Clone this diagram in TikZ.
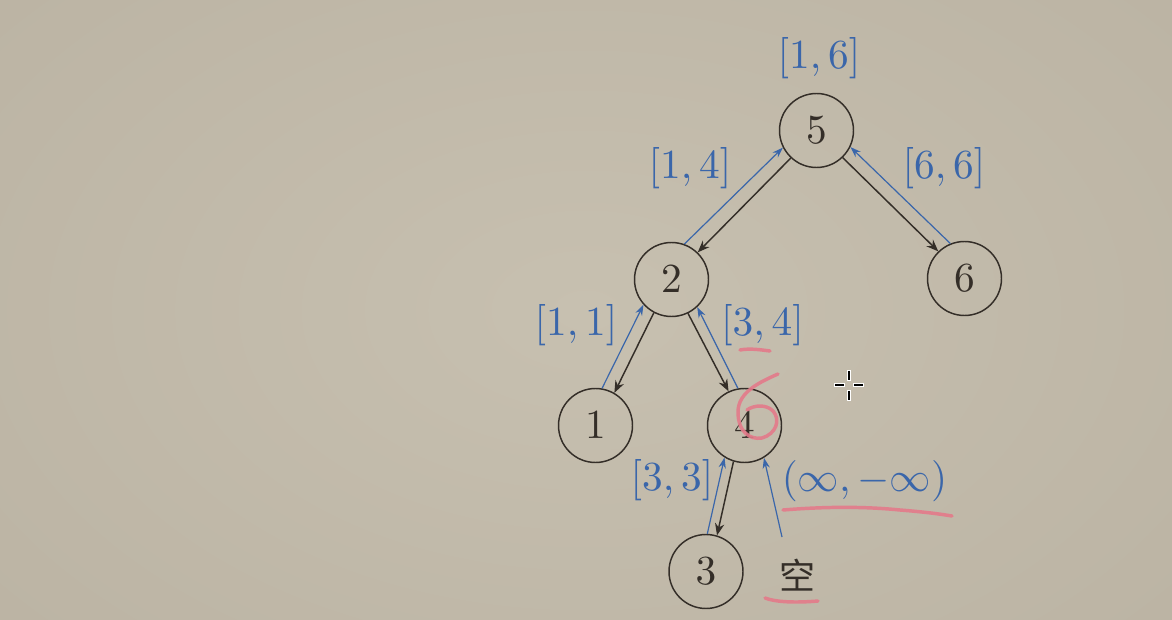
\documentclass[tikz,border=0pt]{standalone}
\usepackage[no-math]{fontspec}
\usepackage{graphicx}
\newfontfamily\cjk{Noto Sans CJK SC}
\usetikzlibrary{arrows.meta,shadings}
\definecolor{paper}{RGB}{199,192,176}
\definecolor{paperdark}{RGB}{186,178,162}
\definecolor{ink}{RGB}{52,46,40}
\definecolor{bluepen}{RGB}{58,102,170}
\definecolor{pinkpen}{RGB}{228,122,138}
% normal design size, enlarged: sturdier glyphs than the display cut
\newcommand{\bigmath}[1]{\scalebox{3.1}{\fontsize{10}{12}\selectfont$#1$}}
\tikzset{
  treenode/.style={circle, draw=ink, line width=1.1pt, minimum size=55.5pt, inner sep=0pt,
    text=ink},
  rangelabel/.style={text=bluepen, inner sep=0pt},
  down/.style={draw=ink, line width=1.1pt, -{Stealth[length=9pt,width=7pt]}},
  up/.style={draw=bluepen, line width=0.9pt, -{Stealth[length=8pt,width=5.5pt]}},
  scribble/.style={draw=pinkpen, line width=2.6pt, line cap=round, line join=round, opacity=0.9},
  cursorbar/.style={fill=black, draw=white, line width=0.6pt}
}
\begin{document}
\begin{tikzpicture}[x=0.75pt,y=-0.75pt]
  % paper background
  \useasboundingbox (0,0) rectangle (1172,620);
  \shade[inner color=paper, outer color=paperdark] (-300,-250) rectangle (1472,870);

  % tree nodes
  \node[treenode] (n5) at (816.5,130.5) {\bigmath{5}};
  \node[treenode] (n2) at (671.5,279.5) {\bigmath{2}};
  \node[treenode] (n6) at (964.5,278.5) {\bigmath{6}};
  \node[treenode] (n1) at (595.5,425.5) {\bigmath{1}};
  \node[treenode] (n4) at (744.5,425.5) {\bigmath{4}};
  \node[treenode] (n3) at (706,571.5) {\bigmath{3}};
  \node[text=ink, inner sep=0pt, font=\cjk\fontsize{27}{30}\selectfont] (nil) at (797,575) {空};
  \coordinate (nilup) at (782,537);

  % interval labels
  \node[rangelabel] (l5) at (819,58) {\bigmath{[1,6]}};
  \node[rangelabel] (l2) at (690,168) {\bigmath{[1,4]}};
  \node[rangelabel] (l6) at (944,168) {\bigmath{[6,6]}};
  \node[rangelabel] (l1) at (576,325) {\bigmath{[1,1]}};
  \node[rangelabel] (l4) at (762.5,325) {\bigmath{[3,4]}};
  \node[rangelabel] (l3) at (672,480) {\bigmath{[3,3]}};
  \node[rangelabel] (lnil) at (864.5,481.5) {\bigmath{(\infty,-\infty)}};

  % recursion going down
  \draw[down] (n5.227) -- (n2.46);
  \draw[down] (n5.314) -- (n6.134);
  \draw[down] (n2.242) -- (n1.60);
  \draw[down] (n2.296) -- (n4.115);
  \draw[down] (n4.253) -- (n3.73);

  % results returned upward
  \draw[up] (n2.70) -- (n5.207);
  \draw[up] (n6.112) -- (n5.334);
  \draw[up] (n1.80) -- (n2.222);
  \draw[up] (n4.100) -- (n2.313);
  \draw[up] (n3.88) -- (n4.238);
  \draw[up] (nilup) -- (n4.301);

  % hand-written marks
  \draw[scribble] (740,350) .. controls (750,348) and (762,350) .. (770,351);
  \draw[scribble] (778,374) .. controls (760,382) and (738,392) .. (738,412)
    .. controls (738,432) and (750,440) .. (762,438)
    .. controls (776,434) and (781,420) .. (773,411)
    .. controls (766,404) and (754,405) .. (747,410);
  \draw[scribble] (783,510) .. controls (820,507) and (860,506) .. (900,510)
    .. controls (925,512) and (940,514) .. (952,516);
  \draw[scribble] (765,598) .. controls (775,602) and (795,603) .. (818,601);

  % pointer
  \fill[cursorbar] (847.5,370) rectangle (850.5,380.5);
  \fill[cursorbar] (847.5,390) rectangle (850.5,400.5);
  \fill[cursorbar] (834,383.5) rectangle (844.5,386.5);
  \fill[cursorbar] (853,383.5) rectangle (863.5,386.5);
\end{tikzpicture}
\end{document}
